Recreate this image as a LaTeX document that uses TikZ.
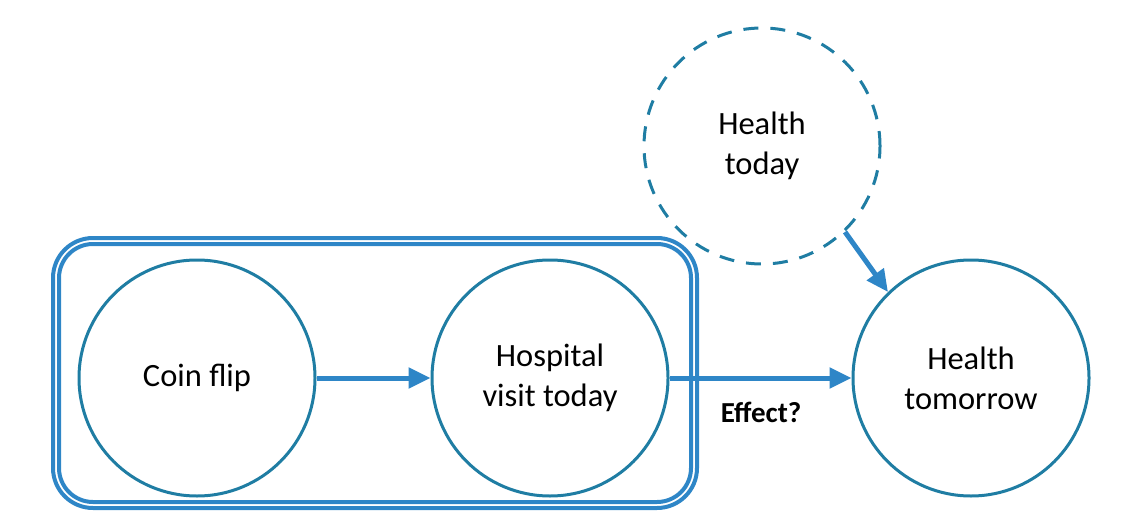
\documentclass[tikz,border=0pt]{standalone}
\usepackage{fontspec}
\setmainfont{Carlito}
\usetikzlibrary{arrows.meta}
\definecolor{circ}{RGB}{31,125,163}
\definecolor{arr}{RGB}{46,134,199}
\begin{document}
\begin{tikzpicture}[x=1pt,y=-1pt,
  var/.style={circle,draw=circ,line width=3pt,minimum size=236pt,inner sep=0pt,align=center,
    font=\fontsize{32.5}{40}\selectfont},
  hidden/.style={var,dashed,dash pattern=on 15pt off 12pt},
  conn/.style={draw=arr,line width=5pt,-{Triangle[length=22pt,width=20pt]}},
  box/.style={draw=arr,line width=4pt,rounded corners=#1},
  lbl/.style={font=\fontsize{29}{34}\selectfont\bfseries}]
\useasboundingbox (0,0) rectangle (1126,516);
\draw[box=40pt] (53,238) rectangle (697,508);
\draw[box=34pt] (59,244) rectangle (691,502);
\node[var] (coin) at (197,378) {Coin flip};
\node[var] (hosp) at (550,378) {Hospital\\visit today};
\node[var] (tom) at (971,378) {Health\\tomorrow};
\node[hidden] (today) at (762,146) {Health\\today};
\draw[conn] (coin) -- (hosp);
\draw[conn] (hosp) -- (tom);
\draw[conn] (today.-46) -- (tom.134);
\node[lbl] (eff) at (761,412) {Effect?};
\end{tikzpicture}
\end{document}
